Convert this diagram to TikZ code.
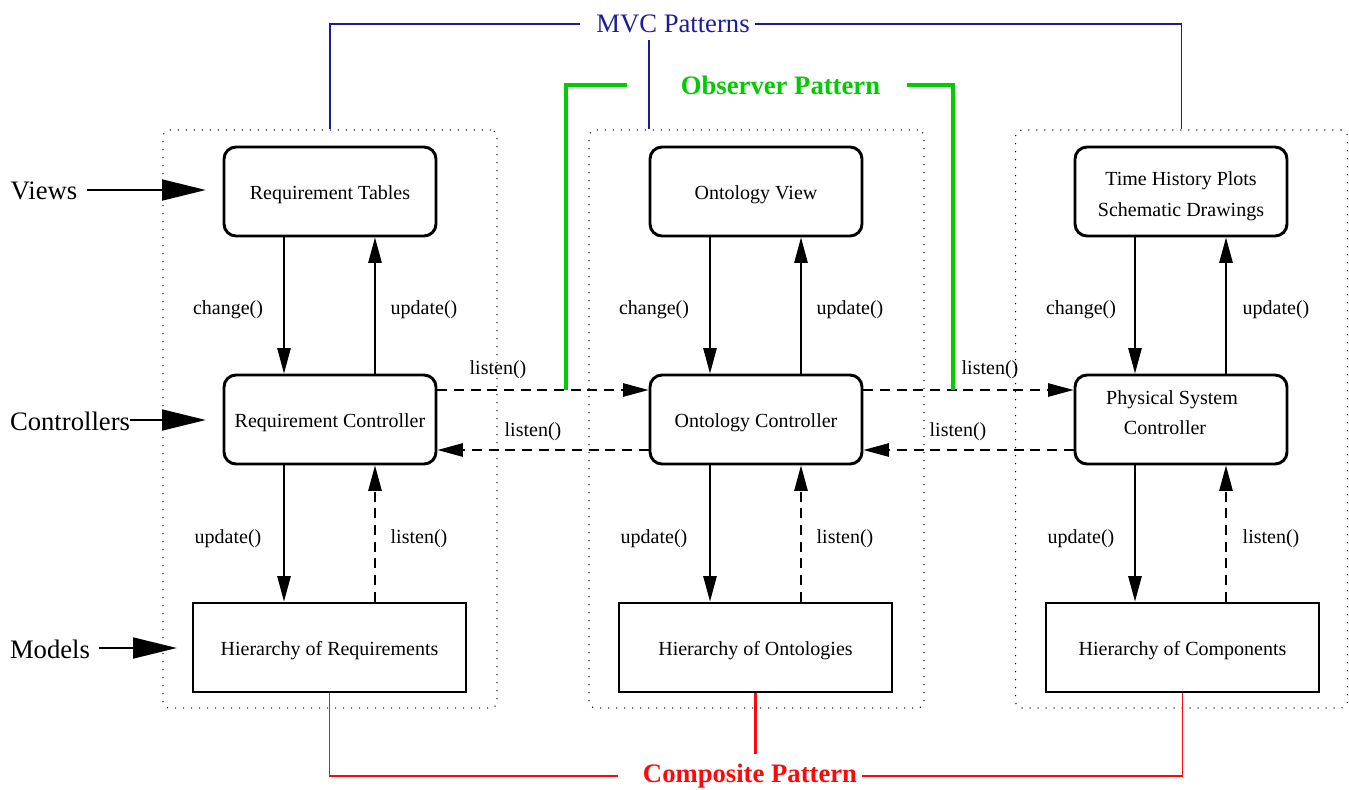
\documentclass[tikz,border=0pt]{standalone}
\usepackage{fontspec}
\setmainfont{Liberation Serif}
\usetikzlibrary{arrows.meta,calc}
\definecolor{mvcblue}{RGB}{28,28,150}
\definecolor{obsgreen}{RGB}{0,204,0}
\definecolor{compred}{RGB}{250,10,10}
\begin{document}
\begin{tikzpicture}[x=0.75pt,y=-0.75pt,
  txt/.style={font=\fontsize{15}{22.5}\selectfont, inner sep=0pt, align=center},
  big/.style={font=\fontsize{20}{24}\selectfont, inner sep=0pt},
  boxtext/.style={txt, text height=12pt, text depth=0pt},
  viewbox/.style={boxtext, draw, line width=2.2pt, rounded corners=9pt,
    minimum width=212*0.75pt, minimum height=89*0.75pt},
  modelbox/.style={boxtext, draw, line width=2.2pt,
    minimum width=273*0.75pt, minimum height=89*0.75pt},
  group/.style={draw, line width=1.1pt, line cap=round, dash pattern=on 0pt off 6pt,
    rounded corners=5pt, minimum height=578*0.75pt, inner sep=0pt},
  call/.style={line width=1.1pt, -{Triangle[length=19pt,width=10pt]}},
  dcall/.style={call, dash pattern=on 7.5pt off 5pt},
  layer/.style={line width=2.2pt, -{Triangle[length=33pt,width=15.5pt]}},
  mvcline/.style={mvcblue, line width=1.1pt},
  obsline/.style={obsgreen, line width=2.3pt},
  compline/.style={compred, line width=1.2pt}
]
\useasboundingbox (0,0) rectangle (1349,789);

% component groups
\node[group, minimum width=334*0.75pt] (D1) at (330,419) {};
\node[group, minimum width=335*0.75pt] (D2) at (756.5,419) {};
\node[group, minimum width=332*0.75pt] (D3) at (1181.5,419) {};

% views
\node[viewbox] (V1) at (330,191.5) {Requirement Tables};
\node[viewbox] (V2) at (756,191.5) {Ontology View};
\node[viewbox, font=\fontsize{15}{23.25}\selectfont, text height=36.8pt, text depth=0pt]
  (V3) at (1181,191.5) {Time History Plots\\Schematic Drawings};

% controllers
\node[viewbox] (C1) at (330,419.5) {Requirement Controller};
\node[viewbox] (C2) at (756,419.5) {Ontology Controller};
\node[viewbox, text height=23.2pt, text depth=0pt]
  (C3) at (1181,419.5) {Physical System\hspace*{13.5pt}\\Controller\hspace*{24pt}};

% models
\node[modelbox] (M1) at (329.5,647.5) {Hierarchy of Requirements};
\node[modelbox] (M2) at (755.5,647.5) {Hierarchy of Ontologies};
\node[modelbox] (M3) at (1182.5,647.5) {Hierarchy of Components};

% view <-> controller <-> model calls in each column
\foreach \v/\c/\m in {V1/C1/M1, V2/C2/M2, V3/C3/M3}{
  \coordinate (a) at ($(\v.south)+(-46,0)$);
  \coordinate (b) at ($(\c.north)+(45,0)$);
  \coordinate (c) at ($(\c.south)+(-46,0)$);
  \coordinate (d) at ($(\c.south)+(45,0)$);
  \draw[call]  (a) -- (a |- \c.north);
  \draw[call]  (b) -- (b |- \v.south);
  \draw[call]  (c) -- (c |- \m.north);
  \draw[dcall] (d |- \m.north) -- (d);
}

% call labels
\foreach \x/\k in {228/1, 654/2, 1081/3}{
  \node[txt] (chg\k) at (\x,310) {change()};
  \node[txt] (upl\k) at (\x,539) {update()};
}
\foreach \x/\k in {424/1, 850/2, 1276/3}{
  \node[txt] (upv\k) at (\x,310) {update()};
}
\foreach \x/\k in {419/1, 845/2, 1271/3}{
  \node[txt] (lsn\k) at (\x,539) {listen()};
}

% listening between controllers
\draw[dcall] ($(C1.east)+(0,-29.5)$) -- ($(C2.west)+(0,-29.5)$);
\draw[dcall] ($(C2.west)+(0,30.5)$) -- ($(C1.east)+(0,30.5)$);
\draw[dcall] ($(C2.east)+(0,-29.5)$) -- ($(C3.west)+(0,-29.5)$);
\draw[dcall] ($(C3.west)+(0,30.5)$) -- ($(C2.east)+(0,30.5)$);
\node[txt] (l12) at (498,370) {listen()};
\node[txt] (l21) at (533,432) {listen()};
\node[txt] (l23) at (990,370) {listen()};
\node[txt] (l32) at (958,432) {listen()};

% layer labels
\node[big] (views) at (44,191) {Views};
\node[big] (ctrls) at (70,421) {Controllers};
\node[big] (models) at (50,649) {Models};
\coordinate (vtip) at (206,190);
\coordinate (ctip) at (206,420);
\coordinate (mtip) at (177,648);
\draw[layer] ($(views.east)+(9,-1)$) -- (vtip);
\draw[layer] ($(ctrls.east)+(0,-1)$) -- (ctip);
\draw[layer] ($(models.east)+(9,-1)$) -- (mtip);

% MVC patterns
\node[big, text=mvcblue] (mvc) at (673,24) {MVC Patterns};
\draw[mvcline] (D1.north) |- ($(mvc.west)+(-16,0)$);
\draw[mvcline] ($(mvc.east)+(5,0)$) -| (D3.north);
\coordinate (mvcstem) at (649,40);
\draw[mvcline] (mvcstem) -- (mvcstem |- D2.north);

% observer pattern
\node[big, font=\fontsize{20}{24}\selectfont\bfseries, text=obsgreen] (obs) at (780.5,85) {Observer Pattern};
\coordinate (og1) at (566,390);
\coordinate (og2) at (953,390);
\draw[obsline] (og1) |- ($(obs.west)+(-54,0)$);
\draw[obsline] ($(obs.east)+(27,0)$) -| (og2);

% composite pattern
\node[big, font=\fontsize{20}{24}\selectfont\bfseries, text=compred] (comp) at (750,776) {Composite Pattern};
\draw[compline] (M1.south) |- ($(comp.west)+(-25,0)$);
\draw[compline] ($(comp.east)+(5,0)$) -| (M3.south);
\draw[compred, line width=2.3pt] (M2.south) -- (M2.south |- 0,754);
\end{tikzpicture}
\end{document}
